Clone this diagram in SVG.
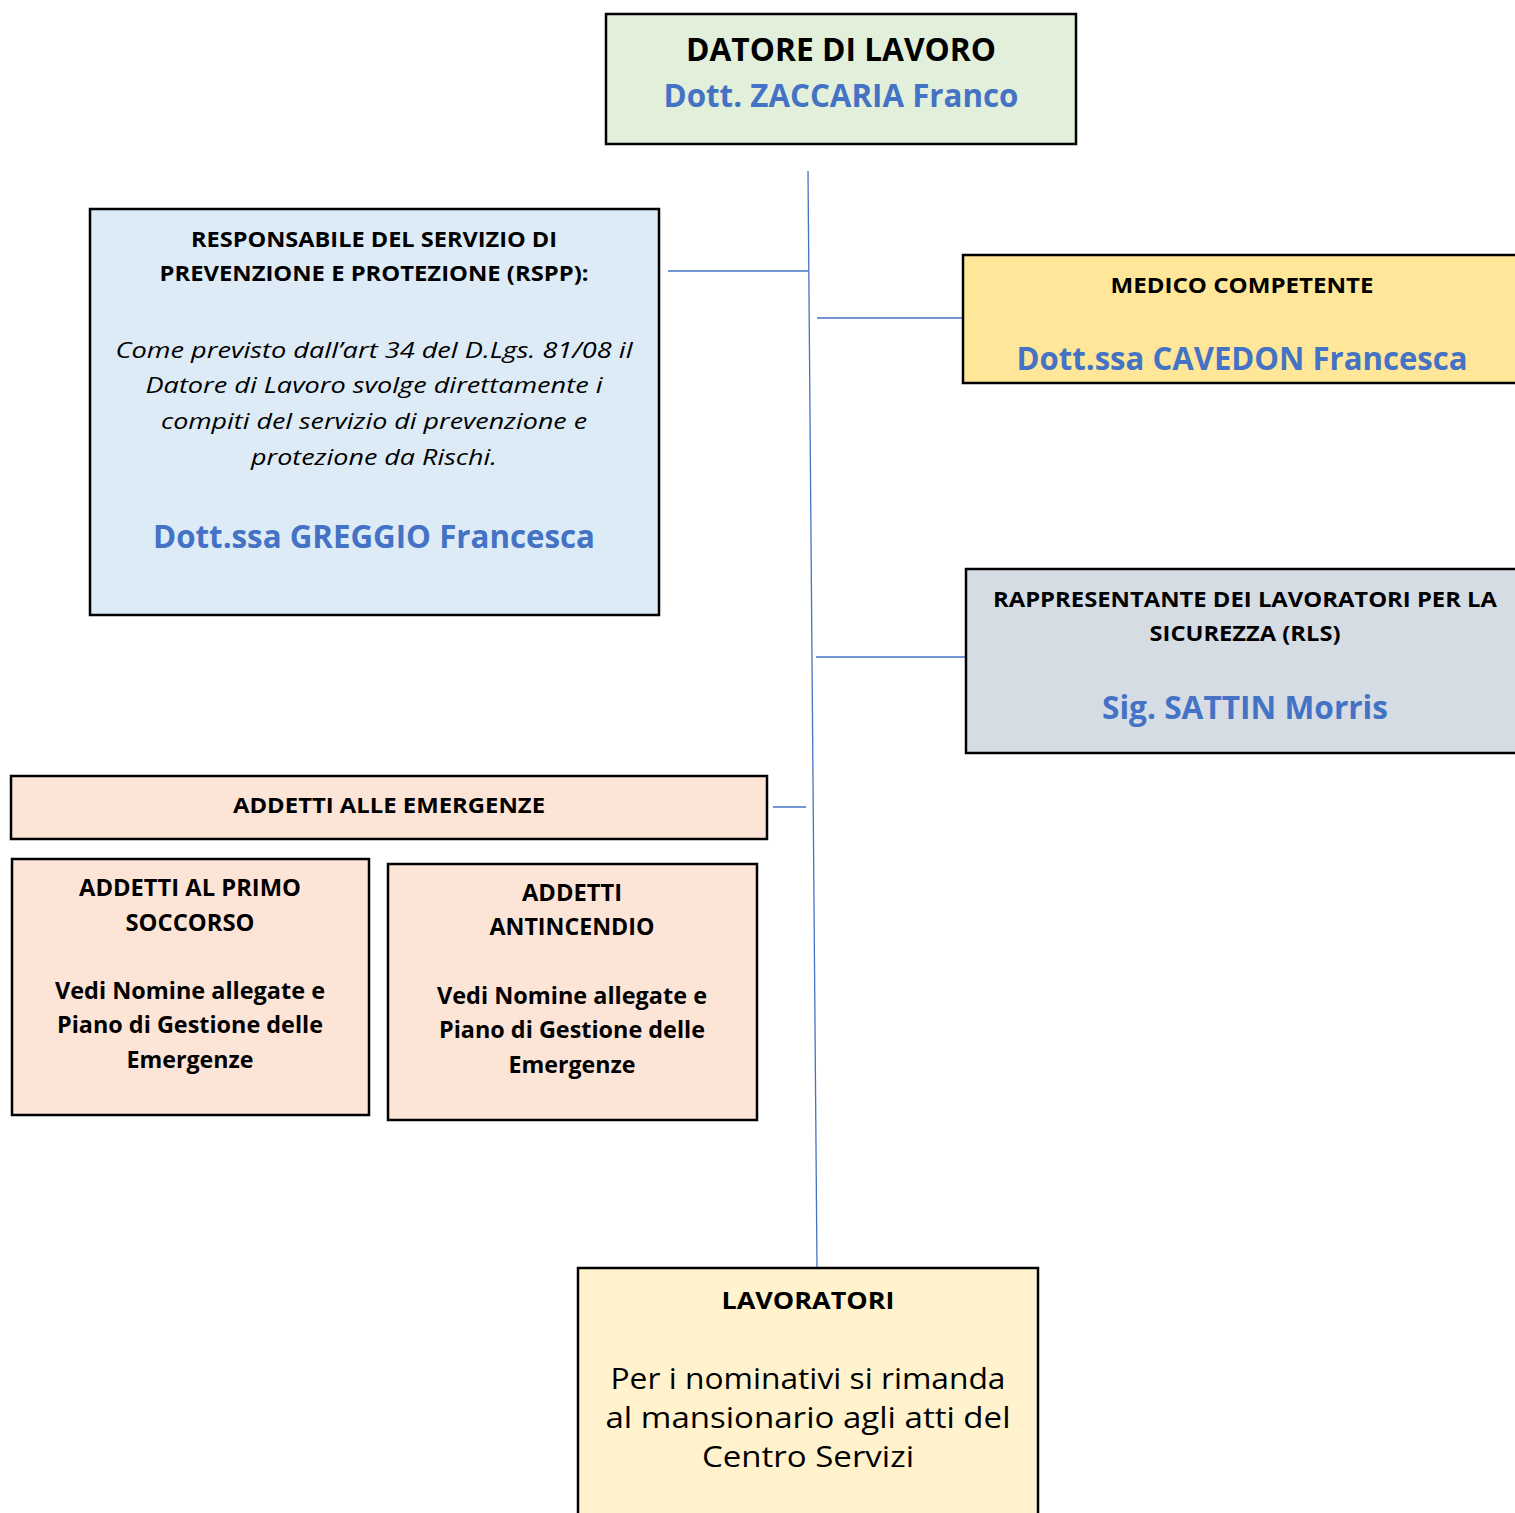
<svg xmlns="http://www.w3.org/2000/svg" width="1515" height="1513" viewBox="0 0 1515 1513">
<style>
.box{stroke:#000;stroke-width:2.5}
text{font-family:"Open Sans","Noto Sans","Liberation Sans",sans-serif;text-anchor:middle}
.h{font-weight:bold;font-size:22px;fill:#000}
.big{font-weight:bold;font-size:32px;fill:#000}
.name{font-weight:bold;font-size:32px;fill:#4472C4}
.it{font-style:italic;font-size:22.5px;fill:#000}
.hb{font-weight:bold;font-size:23px;fill:#000}
.body{font-size:30px;fill:#000}
.conn{stroke:#4472C4;stroke-width:1.3;fill:none}
</style>
<rect width="1515" height="1513" fill="#fff"/>
<g id="connectors">
<line class="conn" x1="808" y1="171" x2="817" y2="1268"/>
<line class="conn" x1="668" y1="271" x2="808" y2="271"/>
<line class="conn" x1="817" y1="318" x2="963" y2="318"/>
<line class="conn" x1="816" y1="657" x2="966" y2="657"/>
<line class="conn" x1="773" y1="807" x2="806" y2="807"/>
</g>
<g id="datore">
<rect class="box" x="606" y="14" width="470" height="130" fill="#E2EFDA"/>
<text class="big" x="841" y="61" textLength="310" lengthAdjust="spacingAndGlyphs">DATORE DI LAVORO</text>
<text class="name" x="841" y="107" textLength="355" lengthAdjust="spacingAndGlyphs">Dott. ZACCARIA Franco</text>
</g>
<g id="rspp">
<rect class="box" x="90" y="209" width="569" height="406" fill="#DDEBF7"/>
<text class="h" x="374" y="247" textLength="366" lengthAdjust="spacingAndGlyphs">RESPONSABILE DEL SERVIZIO DI</text>
<text class="h" x="374" y="281" textLength="429" lengthAdjust="spacingAndGlyphs">PREVENZIONE E PROTEZIONE (RSPP):</text>
<text class="it" x="374" y="358" textLength="517" lengthAdjust="spacingAndGlyphs">Come previsto dall’art 34 del D.Lgs. 81/08 il</text>
<text class="it" x="374" y="393" textLength="457" lengthAdjust="spacingAndGlyphs">Datore di Lavoro svolge direttamente i</text>
<text class="it" x="374" y="429" textLength="426" lengthAdjust="spacingAndGlyphs">compiti del servizio di prevenzione e</text>
<text class="it" x="374" y="465" textLength="246" lengthAdjust="spacingAndGlyphs">protezione da Rischi.</text>
<text class="name" x="374" y="548" textLength="442" lengthAdjust="spacingAndGlyphs">Dott.ssa GREGGIO Francesca</text>
</g>
<g id="medico">
<rect class="box" x="963" y="255" width="560" height="128" fill="#FFE699"/>
<text class="h" x="1242" y="293" textLength="263" lengthAdjust="spacingAndGlyphs">MEDICO COMPETENTE</text>
<text class="name" x="1242" y="370" textLength="451" lengthAdjust="spacingAndGlyphs">Dott.ssa CAVEDON Francesca</text>
</g>
<g id="rls">
<rect class="box" x="966" y="569" width="557" height="184" fill="#D6DCE4"/>
<text class="h" x="1245" y="607" textLength="504" lengthAdjust="spacingAndGlyphs">RAPPRESENTANTE DEI LAVORATORI PER LA</text>
<text class="h" x="1245" y="641" textLength="191" lengthAdjust="spacingAndGlyphs">SICUREZZA (RLS)</text>
<text class="name" x="1245" y="719" textLength="286" lengthAdjust="spacingAndGlyphs">Sig. SATTIN Morris</text>
</g>
<g id="emergenze">
<rect class="box" x="11" y="776" width="756" height="63" fill="#FCE4D6"/>
<text class="h" x="389" y="813" textLength="312" lengthAdjust="spacingAndGlyphs">ADDETTI ALLE EMERGENZE</text>
</g>
<g id="primo-soccorso">
<rect class="box" x="12" y="859" width="357" height="256" fill="#FCE4D6"/>
<text class="hb" x="190" y="896" textLength="222" lengthAdjust="spacingAndGlyphs">ADDETTI AL PRIMO</text>
<text class="hb" x="190" y="931" textLength="129" lengthAdjust="spacingAndGlyphs">SOCCORSO</text>
<text class="hb" x="190" y="999" textLength="270" lengthAdjust="spacingAndGlyphs">Vedi Nomine allegate e</text>
<text class="hb" x="190" y="1033" textLength="266" lengthAdjust="spacingAndGlyphs">Piano di Gestione delle</text>
<text class="hb" x="190" y="1068" textLength="127" lengthAdjust="spacingAndGlyphs">Emergenze</text>
</g>
<g id="antincendio">
<rect class="box" x="388" y="864" width="369" height="256" fill="#FCE4D6"/>
<text class="hb" x="572" y="901" textLength="100" lengthAdjust="spacingAndGlyphs">ADDETTI</text>
<text class="hb" x="572" y="935" textLength="165" lengthAdjust="spacingAndGlyphs">ANTINCENDIO</text>
<text class="hb" x="572" y="1004" textLength="270" lengthAdjust="spacingAndGlyphs">Vedi Nomine allegate e</text>
<text class="hb" x="572" y="1038" textLength="266" lengthAdjust="spacingAndGlyphs">Piano di Gestione delle</text>
<text class="hb" x="572" y="1073" textLength="127" lengthAdjust="spacingAndGlyphs">Emergenze</text>
</g>
<g id="lavoratori">
<rect class="box" x="578" y="1268" width="460" height="260" fill="#FFF2CC"/>
<text class="hb" x="808" y="1309" textLength="173" lengthAdjust="spacingAndGlyphs">LAVORATORI</text>
<text class="body" x="808" y="1389" textLength="395" lengthAdjust="spacingAndGlyphs">Per i nominativi si rimanda</text>
<text class="body" x="808" y="1428" textLength="405" lengthAdjust="spacingAndGlyphs">al mansionario agli atti del</text>
<text class="body" x="808" y="1467" textLength="212" lengthAdjust="spacingAndGlyphs">Centro Servizi</text>
</g>
</svg>
